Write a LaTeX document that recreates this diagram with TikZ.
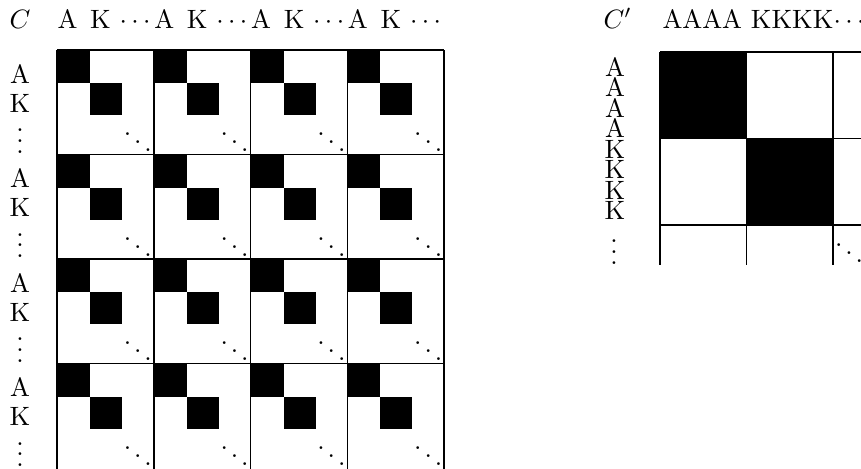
\documentclass[tikz,border=0pt]{standalone}
\begin{document}
\begin{tikzpicture}[x=0.377pt,y=-0.377pt]

	% Stile
	\tikzset{gridline/.style={line width=0.6pt}, lbl/.style={inner sep=0pt, anchor=base}}

	% Rahmen
	\useasboundingbox (0,0) rectangle (861,468);
	\clip (0,0) rectangle (861,468);

	% Linke Matrix C: Beschriftung
	\node[lbl] (c) at (20,28) {$C$};
	\foreach \j in {0,...,3} {\node[lbl, anchor=base west] (top\j) at (57+96.8*\j,28) {A\hspace{4.8pt}K $\cdots$};}
	\foreach \i in {0,...,3} {
		\node[lbl] (la\i) at (20,83+104.5*\i) {A};
		\node[lbl] (lk\i) at (20,112+104.5*\i) {K};
		\node[lbl] (lv\i) at (20,153+104.5*\i) {$\vdots$};
	}

	% Linke Matrix C: Bloecke
	\foreach \i in {0,...,3} {
		\foreach \j in {0,...,3} {
			\fill (57+96.8*\j,50+104.5*\i) rectangle ++(33,33);
			\fill (90+96.8*\j,83+104.5*\i) rectangle ++(32,32);
			\node[inner sep=0pt, anchor=base east] (dd\i\j) at (153.8+96.8*\j,154.5+104.5*\i) {$\ddots$};
		}
	}
	\foreach \j in {0,...,4} {\draw[gridline] (57+96.8*\j,50) -- (57+96.8*\j,472);}
	\foreach \i in {0,...,3} {\draw[gridline] (57,50+104.5*\i) -- (444.2,50+104.5*\i);}

	% Rechte Matrix C'
	\node[lbl, anchor=base west] (cp) at (603,28) {$C'$};
	\node[lbl, anchor=base west] (topr) at (662,28) {AAAA KKKK$\cdots$};
	\foreach \ch [count=\k from 0] in {A,A,A,A,K,K,K,K} {\node[lbl] (r\k) at (615,76+20.5*\k) {\ch};}
	\node[lbl] (rv) at (614,264) {$\vdots$};
	\fill (660,52) rectangle (746.5,138.5);
	\fill (746.5,138.5) rectangle (833,225);
	\node[inner sep=0pt, anchor=north west] (rdd) at (833,225) {$\ddots$};
	\foreach \x in {660,746.5,833} {\draw[gridline] (\x,52) -- (\x,265);}
	\foreach \y in {52,138.5,225} {\draw[gridline] (660,\y) -- (870,\y);}

\end{tikzpicture}
\end{document}
